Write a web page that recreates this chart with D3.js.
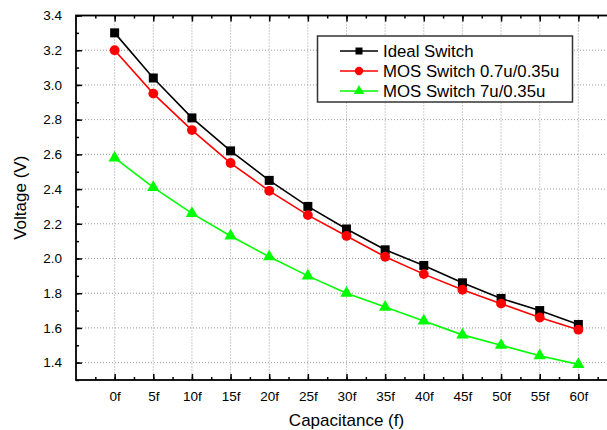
<!DOCTYPE html>
<html>
<head>
<meta charset="utf-8">
<script src="https://cdn.jsdelivr.net/npm/d3@7"></script>
<style>
  html, body { margin: 0; padding: 0; background: #fff; }
  svg { display: block; font-family: "Liberation Sans", Arial, sans-serif; }
</style>
</head>
<body>
<div id="chart"></div>
<script>
// ── Data ────────────────────────────────────────────────────────────────
const CAPS = [0, 5, 10, 15, 20, 25, 30, 35, 40, 45, 50, 55, 60];
const CAP_LABELS = ['0f', '5f', '10f', '15f', '20f', '25f', '30f', '35f', '40f', '45f', '50f', '55f', '60f'];
const IDEAL = [3.30, 3.04, 2.81, 2.62, 2.45, 2.30, 2.17, 2.05, 1.96, 1.86, 1.77, 1.70, 1.62];
const MOS_SMALL = [3.20, 2.95, 2.74, 2.55, 2.39, 2.25, 2.13, 2.01, 1.91, 1.82, 1.74, 1.66, 1.59];
const MOS_LARGE = [2.58, 2.41, 2.26, 2.13, 2.01, 1.90, 1.80, 1.72, 1.64, 1.56, 1.50, 1.44, 1.39];
const Y_TICKS = [1.4, 1.6, 1.8, 2.0, 2.2, 2.4, 2.6, 2.8, 3.0, 3.2, 3.4];

const SERIES = [
  { name: 'Ideal Switch', color: '#000000', values: IDEAL, symbol: d3.symbolSquare, size: 81, legendSize: 49 },
  { name: 'MOS Switch 0.7u/0.35u', color: '#ff0000', values: MOS_SMALL, symbol: d3.symbolCircle, size: 76, legendSize: 55 },
  { name: 'MOS Switch 7u/0.35u', color: '#00ff00', values: MOS_LARGE, symbol: d3.symbolTriangle, size: 66, legendSize: 48 }
];

// ── Layout ──────────────────────────────────────────────────────────────
const W = 607, H = 430;
const plotL = 76, plotT = 15.5, plotB = 380, plotR = 617;
const FONT = '"Liberation Sans", Arial, sans-serif';

const svg = d3.select('#chart').append('svg')
  .attr('width', W).attr('height', H);

const x = d3.scaleLinear().domain([-5, 65]).range([plotL, plotR]);
const y = d3.scaleLinear().domain([1.3, 3.4]).range([plotB, plotT]);

// Grid
const grid = svg.append('g');
grid.selectAll('.gx').data(CAPS).enter().append('line')
  .attr('x1', d => x(d)).attr('x2', d => x(d))
  .attr('y1', plotT).attr('y2', plotB)
  .attr('stroke', '#9a9a9a').attr('stroke-width', 1).attr('stroke-dasharray', '1,2');
grid.selectAll('.gy').data(Y_TICKS).enter().append('line')
  .attr('x1', plotL).attr('x2', plotR)
  .attr('y1', d => y(d)).attr('y2', d => y(d))
  .attr('stroke', '#9a9a9a').attr('stroke-width', 1).attr('stroke-dasharray', '1,2');

// Axes (ticks inward)
const xMinor = d3.range(-2.5, 65, 2.5);
const yMinor = d3.range(1.3, 3.45, 0.1).map(v => +v.toFixed(2));

svg.append('g').attr('transform', `translate(0,${plotB})`)
  .call(d3.axisBottom(x).tickValues(xMinor).tickSize(-3).tickFormat(''))
  .call(ax => ax.select('.domain').remove());
svg.append('g').attr('transform', `translate(0,${plotB})`)
  .call(d3.axisBottom(x).tickValues(CAPS).tickSize(-6).tickPadding(11)
    .tickFormat((d, i) => CAP_LABELS[i]))
  .call(ax => ax.select('.domain').remove())
  .call(ax => ax.selectAll('text').attr('font-size', 13.5).attr('fill', '#000')
    .attr('font-family', FONT));

svg.append('g').attr('transform', `translate(0,${plotT})`)
  .call(d3.axisTop(x).tickValues(xMinor).tickSize(-3).tickFormat(''))
  .call(ax => ax.select('.domain').remove());
svg.append('g').attr('transform', `translate(0,${plotT})`)
  .call(d3.axisTop(x).tickValues(CAPS).tickSize(-6).tickFormat(''))
  .call(ax => ax.select('.domain').remove());

svg.append('g').attr('transform', `translate(${plotL},0)`)
  .call(d3.axisLeft(y).tickValues(yMinor).tickSize(-3).tickFormat(''))
  .call(ax => ax.select('.domain').remove());
svg.append('g').attr('transform', `translate(${plotL},0)`)
  .call(d3.axisLeft(y).tickValues(Y_TICKS).tickSize(-6).tickPadding(14)
    .tickFormat(d3.format('.1f')))
  .call(ax => ax.select('.domain').remove())
  .call(ax => ax.selectAll('text').attr('font-size', 13.5).attr('fill', '#000')
    .attr('font-family', FONT));

svg.selectAll('.tick line').attr('stroke', '#000').attr('stroke-width', 1.5);

// Frame
svg.append('rect')
  .attr('x', plotL).attr('y', plotT)
  .attr('width', plotR - plotL).attr('height', plotB - plotT)
  .attr('fill', 'none').attr('stroke', '#000').attr('stroke-width', 1.8);

// Series
const line = d3.line().x((d, i) => x(CAPS[i])).y(d => y(d));
SERIES.forEach(s => {
  svg.append('path').datum(s.values)
    .attr('d', line).attr('fill', 'none')
    .attr('stroke', s.color).attr('stroke-width', 1.6);
  svg.append('g').selectAll('path').data(s.values).enter().append('path')
    .attr('transform', (d, i) => `translate(${x(CAPS[i])},${y(d)})`)
    .attr('d', d3.symbol().type(s.symbol).size(s.size))
    .attr('fill', s.color);
});

// Legend
const legend = svg.append('g');
legend.append('rect')
  .attr('x', 317.5).attr('y', 36).attr('width', 255).attr('height', 66)
  .attr('fill', '#fff').attr('stroke', '#333').attr('stroke-width', 1.5);
SERIES.forEach((s, i) => {
  const ly = 51 + i * 20;
  legend.append('line')
    .attr('x1', 340).attr('x2', 378).attr('y1', ly).attr('y2', ly)
    .attr('stroke', s.color).attr('stroke-width', 1.6);
  legend.append('path')
    .attr('transform', `translate(359,${ly})`)
    .attr('d', d3.symbol().type(s.symbol).size(s.legendSize))
    .attr('fill', s.color);
  legend.append('text')
    .attr('x', 383).attr('y', ly + 6.2)
    .attr('font-size', 16.8).attr('fill', '#000')
    .text(s.name);
});

// Axis titles
svg.append('text')
  .attr('x', (plotL + plotR) / 2).attr('y', 425.5)
  .attr('text-anchor', 'middle').attr('font-size', 17).attr('fill', '#000')
  .text('Capacitance (f)');
svg.append('text')
  .attr('transform', `translate(26,${(plotT + plotB) / 2}) rotate(-90)`)
  .attr('text-anchor', 'middle').attr('font-size', 17).attr('fill', '#000')
  .text('Voltage (V)');
</script>
</body>
</html>
